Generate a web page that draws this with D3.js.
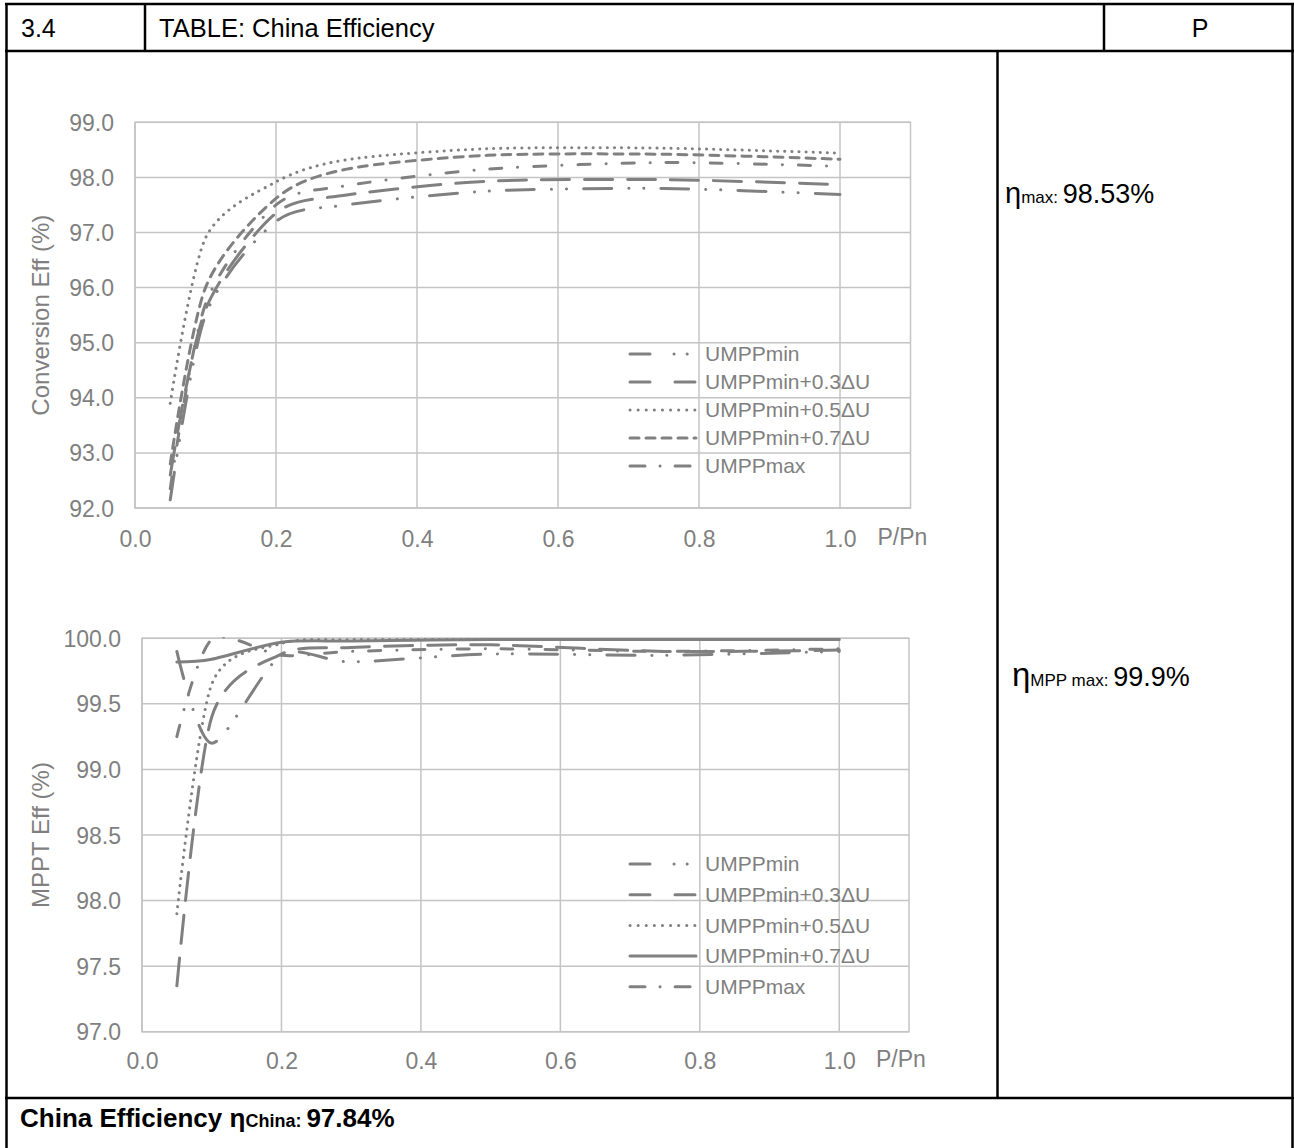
<!DOCTYPE html>
<html>
<head>
<meta charset="utf-8">
<script src="https://cdn.jsdelivr.net/npm/d3@7"></script>
<style>
  body { margin: 0; background: #fff; }
  text { font-family: "Liberation Sans", Arial, sans-serif; }
</style>
</head>
<body>
<div id="my_dataviz"></div>
<script>
// data
var pLevels = [0.05, 0.1, 0.2, 0.3, 0.5, 0.75, 1.0];
var seriesNames = ["UMPPmin", "UMPPmin+0.3ΔU", "UMPPmin+0.5ΔU", "UMPPmin+0.7ΔU", "UMPPmax"];

// conversion efficiency (%)
var convMin   = [92.15, 95.5, 97.2, 97.5, 97.75, 97.8, 97.69];
var conv03    = [92.6, 95.6, 97.35, 97.68, 97.93, 97.96, 97.87];
var conv05    = [93.9, 96.9, 97.92, 98.32, 98.52, 98.53, 98.44];
var conv07    = [92.8, 96.0, 97.62, 98.15, 98.4, 98.42, 98.33];
var convMax   = [92.35, 95.7, 97.5, 97.85, 98.15, 98.27, 98.2];

// MPPT efficiency (%)
var mpptMin   = [99.90, 99.2, 99.87, 99.82, 99.88, 99.87, 99.9];
var mppt03    = [97.35, 99.4, 99.88, 99.93, 99.95, 99.9, 99.91];
var mppt05    = [97.9, 99.65, 99.96, 99.99, 99.99, 99.99, 99.99];
var mppt07    = [99.82, 99.84, 99.97, 99.98, 99.99, 99.99, 99.99];
var mpptMax   = [99.25, 99.99, 99.87, 99.9, 99.92, 99.9, 99.92];

var xTicks = [0, 0.2, 0.4, 0.6, 0.8, 1.0];
var convTicks = [92, 93, 94, 95, 96, 97, 98, 99];
var mpptTicks = [97, 97.5, 98, 98.5, 99, 99.5, 100];

var W = 1294, H = 1148;
var grey = "#7f7f7f", gridCol = "#c4c4c4", seriesCol = "#808080";
var fs = 21, tickFs = 23;

var svg = d3.select("#my_dataviz")
  .append("svg")
    .attr("width", W)
    .attr("height", H);

// ---- table frame ----
var frame = svg.append("g").attr("stroke", "#000").attr("stroke-width", 2.5).attr("fill", "none");
frame.append("line").attr("x1", 5).attr("x2", 1294).attr("y1", 4).attr("y2", 4);
frame.append("line").attr("x1", 5).attr("x2", 1294).attr("y1", 51).attr("y2", 51);
frame.append("line").attr("x1", 5).attr("x2", 1294).attr("y1", 1098).attr("y2", 1098);
frame.append("line").attr("x1", 6.5).attr("x2", 6.5).attr("y1", 4).attr("y2", H);
frame.append("line").attr("x1", 1292.5).attr("x2", 1292.5).attr("y1", 4).attr("y2", H);
frame.append("line").attr("x1", 145).attr("x2", 145).attr("y1", 4).attr("y2", 51);
frame.append("line").attr("x1", 1104).attr("x2", 1104).attr("y1", 4).attr("y2", 51);
frame.append("line").attr("x1", 997.5).attr("x2", 997.5).attr("y1", 51).attr("y2", 1098);

svg.append("text").attr("x", 21).attr("y", 37).attr("font-size", 25).text("3.4");
svg.append("text").attr("x", 159).attr("y", 37).attr("font-size", 25.5).text("TABLE: China Efficiency");
svg.append("text").attr("x", 1200).attr("y", 37).attr("font-size", 25).attr("text-anchor", "middle").text("P");

var t1 = svg.append("text").attr("x", 1005).attr("y", 203).attr("font-size", 27);
t1.append("tspan").attr("font-size", 29).text("η");
t1.append("tspan").attr("font-size", 17).text("max: ");
t1.append("tspan").text("98.53%");

var t2 = svg.append("text").attr("x", 1012).attr("y", 686).attr("font-size", 27);
t2.append("tspan").attr("font-size", 33).text("η");
t2.append("tspan").attr("font-size", 17).text("MPP max: ");
t2.append("tspan").text("99.9%");

var t3 = svg.append("text").attr("x", 20).attr("y", 1127).attr("font-size", 26).attr("font-weight", "bold");
t3.append("tspan").text("China Efficiency η");
t3.append("tspan").attr("font-size", 18).text("China: ");
t3.append("tspan").text("97.84%");

// line styles per series (round caps)
var convDash = ["28,17,0.1,15,0.1,17", "28,15", "0.1,7", "9,7", "12,16,0.1,16"];
var mpptDash = ["28,17,0.1,15,0.1,17", "28,15", "0.1,7", null, "12,16,0.1,16"];

function drawChart(cfg) {
  var x = d3.scaleLinear().domain([0, 1.1]).range([cfg.left, cfg.right]);
  var y = d3.scaleLinear().domain(cfg.yDomain).range([cfg.bottom, cfg.top]);
  var g = svg.append("g");

  // grid
  g.append("g").selectAll("line").data(cfg.yTicks).join("line")
    .attr("x1", cfg.left).attr("x2", cfg.right)
    .attr("y1", d => y(d)).attr("y2", d => y(d))
    .attr("stroke", gridCol).attr("stroke-width", 1.5);
  g.append("g").selectAll("line").data(xTicks).join("line")
    .attr("x1", d => x(d)).attr("x2", d => x(d))
    .attr("y1", cfg.top).attr("y2", cfg.bottom)
    .attr("stroke", gridCol).attr("stroke-width", 1.5);
  g.append("rect")
    .attr("x", cfg.left).attr("y", cfg.top)
    .attr("width", cfg.right - cfg.left).attr("height", cfg.bottom - cfg.top)
    .attr("fill", "none").attr("stroke", gridCol).attr("stroke-width", 1.5);

  // axes (labels only)
  var xAxis = g.append("g")
    .attr("transform", "translate(0," + (cfg.bottom + cfg.xLabOff) + ")")
    .call(d3.axisBottom(x).tickValues(xTicks).tickFormat(d3.format(".1f")).tickSize(0));
  var yAxis = g.append("g")
    .attr("transform", "translate(" + (cfg.left - 21) + ",0)")
    .call(d3.axisLeft(y).tickValues(cfg.yTicks).tickFormat(d3.format(".1f")).tickSize(0));
  [xAxis, yAxis].forEach(function(a) {
    a.select(".domain").remove();
    a.selectAll("text")
      .attr("fill", grey)
      .attr("font-size", tickFs)
      .attr("font-family", "Liberation Sans, Arial, sans-serif");
  });
  xAxis.selectAll("text").attr("y", 0).attr("dy", "0.35em");
  yAxis.selectAll("text").attr("x", 0).attr("dy", "0.35em");

  g.append("text")
    .attr("x", cfg.right - 33).attr("y", cfg.bottom + cfg.xLabOff - 2).attr("dy", "0.35em")
    .attr("fill", grey).attr("font-size", tickFs).text("P/Pn");

  g.append("text")
    .attr("transform", "translate(49," + ((cfg.top + cfg.bottom) / 2) + ") rotate(-90)")
    .attr("text-anchor", "middle")
    .attr("fill", grey).attr("font-size", 24).text(cfg.yTitle);

  // clip
  var clipId = "clip" + cfg.id;
  svg.append("clipPath").attr("id", clipId).append("rect")
    .attr("x", cfg.left).attr("y", cfg.top - 1)
    .attr("width", cfg.right - cfg.left).attr("height", cfg.bottom - cfg.top + 1);

  var line = d3.line()
    .x(d => x(d[0])).y(d => y(d[1]))
    .curve(d3.curveCardinal.tension(0.2));

  g.append("g").attr("clip-path", "url(#" + clipId + ")")
    .selectAll("path").data(cfg.series).join("path")
    .attr("d", s => line(pLevels.map((p, i) => [p, s[i]])))
    .attr("fill", "none")
    .attr("stroke", seriesCol)
    .attr("stroke-width", 3)
    .attr("stroke-linecap", "round")
    .attr("stroke-linejoin", "round")
    .attr("stroke-dasharray", (s, i) => cfg.dash[i]);

  // legend
  var leg = g.append("g").selectAll("g").data(seriesNames).join("g")
    .attr("transform", (d, i) => "translate(0," + (cfg.legY + i * cfg.legStep) + ")");
  leg.append("line")
    .attr("x1", 630).attr("x2", 696).attr("y1", 0).attr("y2", 0)
    .attr("stroke", seriesCol).attr("stroke-width", 3)
    .attr("stroke-linecap", "round")
    .attr("stroke-dasharray", (d, i) => cfg.legDash[i]);
  leg.append("text")
    .attr("x", 705).attr("y", 0).attr("dy", "0.35em")
    .attr("fill", grey).attr("font-size", fs).text(d => d);
}

drawChart({
  id: 1, left: 135, right: 910.5, top: 122.3, bottom: 508,
  yDomain: [92, 99], yTicks: convTicks, yTitle: "Conversion Eff (%)",
  series: [convMin, conv03, conv05, conv07, convMax],
  dash: convDash, xLabOff: 31,
  legDash: ["20,24,0.1,13,0.1,13", "20,25", "0.1,8", "9,7", "15,15,0.1,15"],
  legY: 354, legStep: 28
});

drawChart({
  id: 2, left: 142, right: 909, top: 638.3, bottom: 1031.7,
  yDomain: [97, 100], yTicks: mpptTicks, yTitle: "MPPT Eff (%)",
  series: [mpptMin, mppt03, mppt05, mppt07, mpptMax],
  dash: mpptDash, xLabOff: 29,
  legDash: ["20,24,0.1,13,0.1,13", "20,25", "0.1,8", null, "15,15,0.1,15"],
  legY: 864, legStep: 30.7
});
</script>
</body>
</html>
